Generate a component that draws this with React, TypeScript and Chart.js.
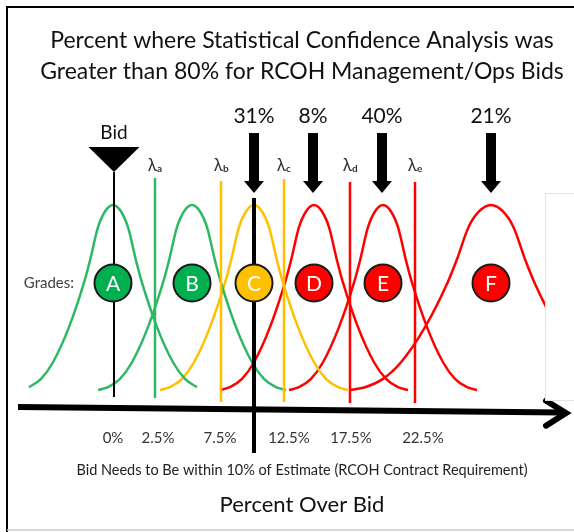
import React, { useEffect, useRef } from 'react';
import { Chart, registerables } from 'chart.js';

Chart.register(...registerables);

const FONT = "Lato, 'Open Sans', sans-serif";

// ---- text ----
const titleLines = [
  'Percent where Statistical Confidence Analysis was',
  'Greater than 80% for RCOH Management/Ops Bids',
];
const requirementText = 'Bid Needs to Be within 10% of Estimate (RCOH Contract Requirement)';
const axisTitle = 'Percent Over Bid';
const gradesLabel = 'Grades:';
const bidLabel = 'Bid';

// ---- x tick labels (schematic position units) ----
const tickPositions = [113, 158, 220, 289, 351, 423];
const tickLabels = ['0%', '2.5%', '7.5%', '12.5%', '17.5%', '22.5%'];

// ---- grades / bell curves ----
const grades = ['A', 'B', 'C', 'D', 'E', 'F'];
const gradeCenters = [113, 192, 254, 314, 383, 491];
const gradeWidths = [1, 1, 1, 1, 1, 1.5];
const gradeReach = [84, 94, 94, 94, 94, 94];
const curveColors = ['#2EB865', '#2EB865', '#FFC000', '#FF0000', '#FF0000', '#FF0000'];
const circleColors = ['#00B050', '#00B050', '#FFC000', '#FF0000', '#FF0000', '#FF0000'];
const circleLevel = 0.578;

// bell profile (offset from centre, relative height)
const bellDx = [-94, -84, -72, -60, -44, -29, -23, -15, -8, 0, 8, 15, 23, 29, 44, 60, 72, 84, 94];
const bellH = [0, 0.015, 0.06, 0.15, 0.34, 0.58, 0.7, 0.88, 0.965, 1, 0.965, 0.88, 0.7, 0.58, 0.34, 0.15, 0.06, 0.015, 0];

// ---- lambda thresholds ----
const lambdaSubs = ['a', 'b', 'c', 'd', 'e'];
const lambdaX = [155, 221, 284, 350, 415];
const lambdaTop = [1.146, 1.13, 1.141, 1.124, 1.124];
const lambdaBottom = [-0.043, -0.065, -0.065, -0.07, -0.07];
const lambdaColors = ['#2EB865', '#FFC000', '#FFC000', '#FF0000', '#FF0000'];
const lambdaLabelLevel = 1.216;

// ---- bid marker ----
const bidX = 114;
const bidLine = [1.178, -0.038];
const bidMarkerTop = 1.314;
const bidMarkerHalf = 25.5;
const bidLabelLevel = 1.389;

// ---- 10% requirement line ----
const reqX = 254;
const reqLine = [1.038, -0.341];

// ---- percent arrows ----
const arrowX = [254, 313, 382, 491];
const arrowLabels = ['31%', '8%', '40%', '21%'];
const arrowShaftTop = 1.389;
const arrowHeadBase = 1.13;
const arrowTip = 1.065;
const arrowLabelLevel = 1.481;

// ---- horizontal axis arrow ----
const axisX = [18, 562];
const axisY = [-0.092, -0.122];
const axisHeadX = [546, 566, 546];
const axisHeadY = [-0.058, -0.124, -0.193];

// ---- blank box at right ----
const boxX = [545, 580];
const boxY = [1.065, -0.054];

// ---- scale ranges ----
const xRange = [30, 574];
const yRange = [-0.1676, 1.6373];

const overlayPlugin = {
  id: 'overlay',
  beforeDraw(chart: any) {
    const { ctx, width, height } = chart;
    ctx.save();
    ctx.fillStyle = '#ffffff';
    ctx.fillRect(0, 0, width, height);
    ctx.strokeStyle = '#000';
    ctx.lineWidth = 2;
    ctx.beginPath();
    ctx.moveTo(7, height);
    ctx.lineTo(7, 7);
    ctx.lineTo(width, 7);
    ctx.stroke();
    ctx.strokeStyle = '#c8c8c8';
    ctx.lineWidth = 1.5;
    ctx.beginPath();
    ctx.moveTo(7, height - 2);
    ctx.lineTo(width, height - 2);
    ctx.stroke();
    ctx.restore();
  },
  afterDatasetsDraw(chart: any) {
    const { ctx } = chart;
    const xs = chart.scales.x;
    const ys = chart.scales.y;
    const px = (v: number) => xs.getPixelForValue(v);
    const py = (v: number) => ys.getPixelForValue(v);
    ctx.save();

    // blank box
    ctx.fillStyle = '#ffffff';
    ctx.strokeStyle = '#e4e4e4';
    ctx.lineWidth = 1;
    const bx0 = px(boxX[0]);
    const by0 = py(boxY[0]);
    ctx.fillRect(bx0, by0, px(boxX[1]) - bx0, py(boxY[1]) - by0);
    ctx.strokeRect(bx0 + 0.5, by0 + 0.5, px(boxX[1]) - bx0, py(boxY[1]) - by0);

    // bid marker
    ctx.fillStyle = '#000';
    ctx.beginPath();
    ctx.moveTo(px(bidX - bidMarkerHalf), py(bidMarkerTop));
    ctx.lineTo(px(bidX + bidMarkerHalf), py(bidMarkerTop));
    ctx.lineTo(px(bidX), py(bidLine[0]));
    ctx.closePath();
    ctx.fill();
    ctx.fillStyle = '#111';
    ctx.font = `19px ${FONT}`;
    ctx.textAlign = 'center';
    ctx.textBaseline = 'middle';
    ctx.fillText(bidLabel, px(bidX), py(bidLabelLevel));

    // lambda labels
    lambdaX.forEach((x, i) => {
      ctx.fillStyle = '#333';
      ctx.font = `17px ${FONT}`;
      ctx.textAlign = 'right';
      ctx.textBaseline = 'middle';
      ctx.fillText('λ', px(x) + 2, py(lambdaLabelLevel));
      ctx.font = `bold 10px ${FONT}`;
      ctx.textAlign = 'left';
      ctx.fillText(lambdaSubs[i], px(x) + 2, py(lambdaLabelLevel) + 4);
    });

    // percent arrows
    arrowX.forEach((x, i) => {
      const cx = px(x);
      ctx.fillStyle = '#000';
      ctx.fillRect(cx - 5, py(arrowShaftTop), 10, py(arrowHeadBase) - py(arrowShaftTop) + 1);
      ctx.beginPath();
      ctx.moveTo(cx - 10, py(arrowHeadBase));
      ctx.lineTo(cx + 10, py(arrowHeadBase));
      ctx.lineTo(cx, py(arrowTip));
      ctx.closePath();
      ctx.fill();
      ctx.fillStyle = '#111';
      ctx.font = `21px ${FONT}`;
      ctx.textAlign = 'center';
      ctx.textBaseline = 'middle';
      ctx.fillText(arrowLabels[i], cx, py(arrowLabelLevel));
    });

    // grades label
    ctx.fillStyle = '#404040';
    ctx.font = `15px ${FONT}`;
    ctx.textAlign = 'right';
    ctx.textBaseline = 'middle';
    ctx.fillText(gradesLabel, 74, py(circleLevel));

    // letters
    const meta = chart.getDatasetMeta(0);
    ctx.fillStyle = '#ffffff';
    ctx.font = `21px ${FONT}`;
    ctx.textAlign = 'center';
    ctx.textBaseline = 'middle';
    meta.data.forEach((el: any, i: number) => {
      ctx.fillText(grades[i], el.x, el.y + 1);
    });
    ctx.restore();
  },
};

export default function App() {
  const ref = useRef<HTMLCanvasElement>(null);
  useEffect(() => {
    const canvas = ref.current;
    if (!canvas) return;
    const datasets: any[] = [];

    datasets.push({
      type: 'scatter',
      label: 'grades',
      data: gradeCenters.map((x) => ({ x, y: circleLevel })),
      pointRadius: 18.5,
      pointBackgroundColor: circleColors,
      pointBorderColor: '#1a1a1a',
      pointBorderWidth: 2,
      showLine: false,
      order: 0,
      clip: false,
    });

    // bid line
    datasets.push({
      type: 'line',
      data: [{ x: bidX, y: bidLine[0] }, { x: bidX, y: bidLine[1] }],
      borderColor: '#000',
      borderWidth: 2,
      pointRadius: 0,
      order: 1,
      clip: false,
    });
    // requirement line
    datasets.push({
      type: 'line',
      data: [{ x: reqX, y: reqLine[0] }, { x: reqX, y: reqLine[1] }],
      borderColor: '#000',
      borderWidth: 4,
      pointRadius: 0,
      order: 1,
      clip: false,
    });
    // lambda lines
    lambdaX.forEach((x, i) => {
      datasets.push({
        type: 'line',
        data: [{ x, y: lambdaTop[i] }, { x, y: lambdaBottom[i] }],
        borderColor: lambdaColors[i],
        borderWidth: 2.5,
        pointRadius: 0,
        order: 1,
        clip: false,
      });
    });
    // axis arrow
    datasets.push({
      type: 'line',
      data: [{ x: axisX[0], y: axisY[0] }, { x: axisX[1], y: axisY[1] }],
      borderColor: '#000',
      borderWidth: 6,
      pointRadius: 0,
      order: 1,
      clip: false,
    });
    datasets.push({
      type: 'line',
      data: axisHeadX.map((x, i) => ({ x, y: axisHeadY[i] })),
      borderColor: '#000',
      borderWidth: 6,
      borderCapStyle: 'round',
      borderJoinStyle: 'miter',
      pointRadius: 0,
      order: 1,
      clip: false,
    });
    // bell curves
    gradeCenters.forEach((c, g) => {
      const pts: { x: number; y: number }[] = [];
      bellDx.forEach((dx, k) => {
        if (Math.abs(dx) <= gradeReach[g]) pts.push({ x: c + dx * gradeWidths[g], y: bellH[k] });
      });
      datasets.push({
        type: 'line',
        label: grades[g],
        data: pts,
        borderColor: curveColors[g],
        borderWidth: 2.5,
        pointRadius: 0,
        cubicInterpolationMode: 'monotone',
        order: 2,
        clip: false,
      });
    });

    const chart = new Chart(canvas, {
      type: 'line',
      data: { datasets },
      options: {
        responsive: false,
        animation: false,
        devicePixelRatio: 1,
        layout: { padding: { left: 30, right: 0, top: 0, bottom: 0 }, autoPadding: false },
        plugins: {
          legend: { display: false },
          tooltip: { enabled: false },
          title: {
            display: true,
            text: titleLines,
            color: '#111',
            font: { family: FONT, size: 23, weight: 'normal', lineHeight: 1.35 },
            padding: { top: 25, bottom: 0 },
          },
          subtitle: {
            display: true,
            position: 'bottom',
            text: axisTitle,
            color: '#111',
            font: { family: FONT, size: 22, weight: 'normal', lineHeight: 1.2 },
            padding: { top: 0, bottom: 14 },
          },
        },
        scales: {
          x: {
            type: 'linear',
            min: xRange[0],
            max: xRange[1],
            grid: { display: false, drawTicks: false },
            border: { display: false },
            afterBuildTicks: (scale: any) => {
              scale.ticks = tickPositions.map((v) => ({ value: v }));
            },
            ticks: {
              autoSkip: false,
              maxRotation: 0,
              padding: 8,
              color: '#333',
              font: { family: FONT, size: 15, lineHeight: 1.2 },
              callback: (_v: any, i: number) => tickLabels[i],
            },
            title: {
              display: true,
              text: requirementText,
              color: '#222',
              font: { family: FONT, size: 14.5, lineHeight: 1.2 },
              padding: { top: 6.7, bottom: 12.5 },
            },
          },
          y: { type: 'linear', display: false, min: yRange[0], max: yRange[1] },
        },
      },
      plugins: [overlayPlugin],
    } as any);
    return () => chart.destroy();
  }, []);

  return (
    <div style={{ position: 'absolute', left: 0, top: 0, width: 574, height: 532 }}>
      <canvas ref={ref} width={574} height={532} style={{ width: 574, height: 532, display: 'block' }} />
    </div>
  );
}
